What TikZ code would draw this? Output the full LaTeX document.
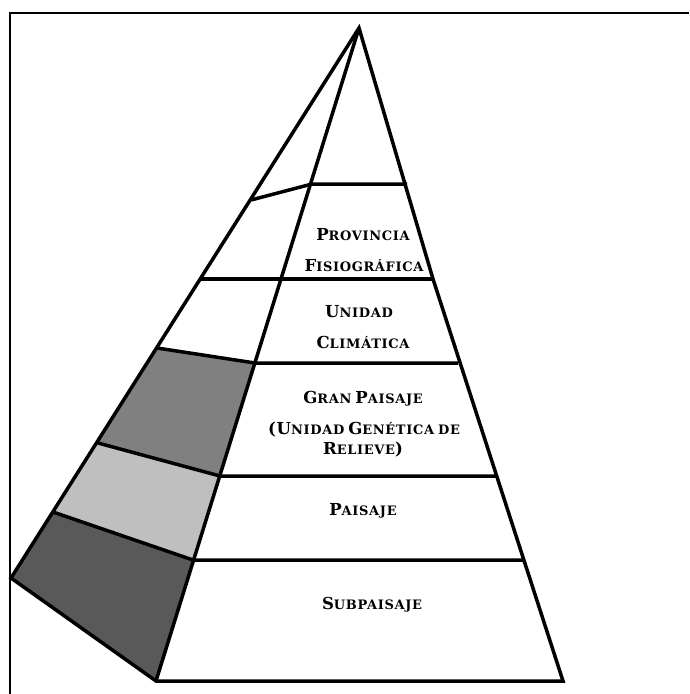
\documentclass[tikz,border=0pt]{standalone}
\usepackage{fontspec}
\newfontfamily\capsfont[LetterSpace=5]{DejaVu Serif}
\newcommand{\kc}[2]{{\fontsize{16.5}{16.5}\selectfont #1}{\fontsize{13}{13}\selectfont #2}}

\begin{document}
\begin{tikzpicture}[x=1pt, y=-1pt, line width=3.5pt,
  lbl/.style={anchor=base, font=\capsfont\bfseries, inner sep=0pt}]
\useasboundingbox (0,0) rectangle (689,694);
% frame (top and left only)
\draw [line width=2pt] (9,13) -- (689,13);
\draw [line width=2pt] (10,13) -- (10,694);

\coordinate (top) at (359,28);
\coordinate (edge) at (11,578);
\coordinate (kink) at (433,279);
\coordinate (base l) at (156,681);
\coordinate (base r) at (563,681);

% shaded blocks on the left face
\fill [black!50] (157,348) -- (255,363) -- (220,476) -- (98,443) -- cycle;
\fill [black!25] (98,443) -- (220,476) -- (193,560) -- (53,512) -- cycle;
\fill [black!65] (53,512) -- (193,560) -- (base l) -- (edge) -- cycle;

% outline
\draw [line join=miter] (edge) -- (top) -- (kink) -- (base r) -- (base l) -- cycle;
\draw (top) -- (base l);

% levels
\draw (200,279) -- (433,279);
\foreach \ox/\oy/\ix/\iy/\rx in {251/200/312/184/407, 157/348/255/363/458,
                                 98/443/220/476/497, 53/512/193/560/525}
  { \draw (\ox,\oy) -- (\ix,\iy) -- (\rx,\iy); }

% labels
\node (provincia) at (363,240) [lbl] {\kc{P}{ROVINCIA}};
\node (fisio) at (364,271) [lbl] {\kc{F}{ISIOGRÁFICA}};
\node (unidad) at (359,317) [lbl] {\kc{U}{NIDAD}};
\node (climatica) at (363,348) [lbl] {\kc{C}{LIMÁTICA}};
\node (granpaisaje) at (363,403) [lbl] {\kc{G}{RAN} \kc{P}{AISAJE}};
\node (genetica) at (364,434) [lbl] {\kc{(U}{NIDAD} \kc{G}{ENÉTICA} \kc{}{DE}};
\node (relieve) at (363,454) [lbl] {\kc{R}{ELIEVE}\kc{)}{}};
\node (paisaje) at (363,515) [lbl] {\kc{P}{AISAJE}};
\node (subpaisaje) at (372,609) [lbl] {\kc{S}{UBPAISAJE}};

\end{tikzpicture}
\end{document}
